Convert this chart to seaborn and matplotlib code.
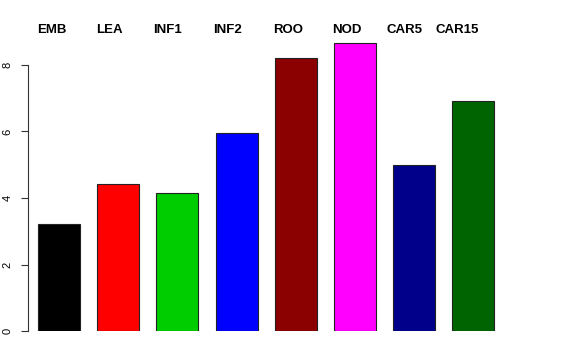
import matplotlib
matplotlib.use("Agg")
import matplotlib.pyplot as plt
import seaborn as sns
import pandas as pd

categories = ["EMB", "LEA", "INF1", "INF2", "ROO", "NOD", "CAR5", "CAR15"]
values = [3.21, 4.42, 4.15, 5.95, 8.21, 8.65, 4.99, 6.92]
colors = ["#000000", "#FF0000", "#00CD00", "#0000FF", "#8B0000", "#FF00FF", "#00008B", "#006400"]
label_x = [-0.12, 0.86, 1.84, 2.85, 3.87, 4.86, 5.84, 6.72]
yticks = [0, 2, 4, 6, 8]

sns.set_style("white")
plt.rcParams["font.family"] = ["Liberation Sans", "DejaVu Sans"]
plt.rcParams["text.color"] = "black"
plt.rcParams["ytick.color"] = "black"

df = pd.DataFrame({"cat": categories, "val": values})

W, H = 576, 360
fig = plt.figure(figsize=(W / 100, H / 100), dpi=100)
px_per_unit = 33.25
y0 = 331
ylim_top = 9.0
left_px, right_px = 28, 548
bar0_px, period_px = 59, 59.2
ax = fig.add_axes([left_px / W, 1 - y0 / H, (right_px - left_px) / W, ylim_top * px_per_unit / H])

sns.barplot(data=df, x="cat", y="val", hue="cat", palette=colors, legend=False,
            width=0.71, edgecolor="#222222", linewidth=0.8, saturation=1, ax=ax)

ax.set_xlim((left_px - bar0_px) / period_px, (right_px - bar0_px) / period_px)
ax.set_ylim(0, ylim_top)
ax.set_xlabel("")
ax.set_ylabel("")
ax.set_xticks([])
ax.set_yticks(yticks)
ax.set_yticklabels([str(t) for t in yticks], rotation=90, va="center", fontsize=8, color="black")
ax.tick_params(axis="y", direction="out", length=5, width=0.8, color="#333333", pad=6, left=True)
for s in ["top", "right", "bottom"]:
    ax.spines[s].set_visible(False)
ax.spines["left"].set_bounds(0, 8)
ax.spines["left"].set_color("#333333")
ax.spines["left"].set_linewidth(0.8)

for xp, lab in zip(label_x, categories):
    ax.text(xp, (y0 - 30) / px_per_unit, lab, ha="center", va="center", color="black",
            fontsize=9.5, fontweight="bold", clip_on=False)

fig.savefig("out.png", dpi=100)
